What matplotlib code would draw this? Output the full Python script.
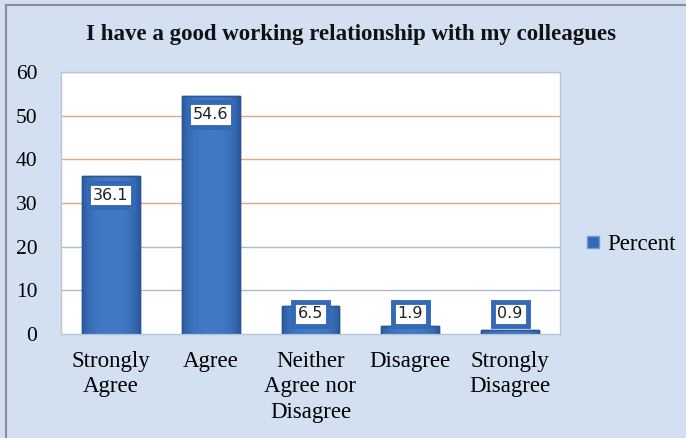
import numpy as np
import matplotlib.pyplot as plt
from matplotlib.patches import Rectangle
from matplotlib.lines import Line2D

categories = ['Strongly\nAgree', 'Agree', 'Neither\nAgree nor\nDisagree', 'Disagree', 'Strongly\nDisagree']
percent = [36.1, 54.6, 6.5, 1.9, 0.9]
yticks = [0, 10, 20, 30, 40, 50, 60]
title = 'I have a good working relationship with my colleagues'

BG = '#d3e0f1'
BAR = '#3469b5'
SERIF = ['Liberation Serif', 'DejaVu Serif']

fig = plt.figure(figsize=(6.86, 4.38), dpi=100, facecolor=BG)
ax = fig.add_axes([0.0889, 0.2374, 0.7274, 0.598])
ax.set_facecolor('white')

x = np.arange(len(categories))

# horizontal gridlines: upper ones salmon, lower ones grey-blue
for v in yticks[1:]:
    c = '#e8a58c' if v >= 30 else '#a9bccf'
    ax.axhline(v, color=c, lw=1.0, zorder=1)

# bars with a horizontal shading so they look rounded
grad = np.linspace(0, 1, 64)
shade = 1 - (2 * np.abs(grad - 0.5)) ** 3
cmap = plt.matplotlib.colors.LinearSegmentedColormap.from_list('bar', ['#2a5b9f', '#4279c4'])
bars = ax.bar(x, percent, width=0.58, color=BAR, edgecolor='#24508f', lw=1.0, zorder=2)
for b in bars:
    x0, w, h = b.get_x(), b.get_width(), b.get_height()
    im = ax.imshow(shade[None, :], cmap=cmap, aspect='auto',
                   extent=[x0, x0 + w, 0, h], zorder=2.5, vmin=0, vmax=1)
    im.set_clip_path(b)
    ax.add_patch(Rectangle((x0, 0), w, h, fill=False, ec='#2a5596', lw=1.0, zorder=3))
ax.set_xlim(-0.5, len(categories) - 0.5)
ax.set_ylim(0, 60)

# value labels in white boxes near the top of each bar
for xi, v in zip(x, percent):
    ax.text(xi, max(v - 4.3, 4.6), f'{v}', ha='center', va='center',
            fontsize=11.5, family=['DejaVu Sans'], color='#222222', zorder=5,
            bbox=dict(boxstyle='square,pad=0.3', fc='white', ec=BAR, lw=3.5))

ax.set_yticks(yticks)
ax.set_yticklabels([str(t) for t in yticks], family=SERIF, fontsize=15.5)
ax.set_xticks(x)
ax.set_xticklabels(categories, family=SERIF, fontsize=16.5, linespacing=1.28)
ax.tick_params(axis='y', length=0, pad=17)
ax.tick_params(axis='x', length=0, pad=12)
for s in ax.spines.values():
    s.set_color('#b5c6d8')
    s.set_linewidth(1.0)

fig.text(0.511, 0.922, title, ha='center', va='center',
         family=SERIF, fontsize=16.5, fontweight='bold', color='#111111')

handle = Line2D([], [], marker='s', color='none', markerfacecolor=BAR,
                markeredgecolor='#6f9bd6', markersize=8)
fig.legend([handle], ['Percent'], loc='center left', bbox_to_anchor=(0.815, 0.442),
           frameon=False, prop={'family': SERIF, 'size': 16.5},
           handletextpad=0.0, handlelength=1.2)

# thin frame on the left and top edges of the chart area
fig.add_artist(Line2D([0.009, 0.009], [0, 0.989], color='#8a8f96', lw=1.5))
fig.add_artist(Line2D([0.009, 1], [0.989, 0.989], color='#8a8f96', lw=1.5))

fig.savefig('out.png', dpi=100, facecolor=BG)
